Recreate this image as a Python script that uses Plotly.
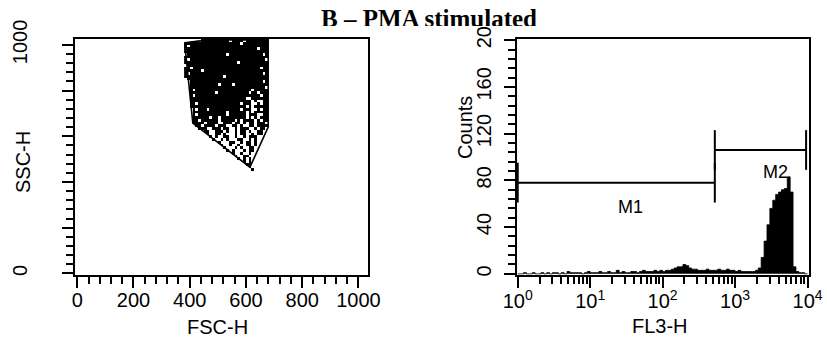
import plotly.graph_objects as go

W, H = 827, 342

# ---------------- Left panel: FSC-H vs SSC-H dot plot ----------------
fsc_tickvals = [0, 200, 400, 600, 800, 1000]
fsc_ticktext = ["0", "200", "400", "600", "800", "1000"]
ssc_tickvals = [0, 200, 400, 600, 800, 1000]
ssc_ticktext = ["0", "", "", "", "", "1000"]

gate_fsc = [382, 464, 679, 679, 614, 411, 382]
gate_ssc = [1009, 1022, 1022, 640, 465, 658, 1009]

# events on a grid ('#' = event present)
event_fsc0, event_dfsc = 385, 10
event_ssc0, event_dssc = 1020, 12
event_rows = [
    "......##########.####.########",
    "####################.#########",
    "#.############################",
    "##########################.###",
    "##############################",
    ".##############.############.#",
    "##############################",
    "#.###########################.",
    "###################.##########",
    ".#############################",
    "##.########################.##",
    "######.#######################",
    "#.##########################.#",
    "##############.###############",
    ".#############################",
    "..##########################.#",
    "..##########.####.############",
    "..###########################.",
    "..#.####################.#####",
    "..#########.###########.##.###",
    "..#.#######################.##",
    "..####################..######",
    "..######################.#..##",
    "..##.###############.###..#.##",
    "..####################.#.#####",
    "...#.###.###########.###..#.##",
    "...############.######.#.#####",
    "...#.##########.######.###..##",
    "...######.##.#########.#.#.###",
    "...##.######.#####.#.####.#.##",
    "...####.####..###.##.#.##.###.",
    "....##.####.###..##.#..##.####",
    ".....###..###.##..#.###..#.##.",
    ".......##..###.#..#.##.#..##..",
    "........#..##.#...#.##..#.##..",
    ".........#.#..##..#..#.###....",
    "..........#..#.#...##..#.#....",
    "............#...##..#.##.#....",
    ".............#..#..#..##.#....",
    "..............#...#.#..##.....",
    "...............#.#...#.##.....",
    ".................#..#..#......",
    "..................#..##.......",
    "...................#.#.#......",
    ".....................#.#......",
    "......................##......",
    ".......................#......",
    "........................#.....",
]

# ---------------- Right panel: FL3-H histogram ----------------
fl3_bin_decades = 0.04  # each channel group spans 0.04 decade, from 10^0 to 10^4
fl3_counts = [
    0, 0, 1, 0, 0, 1, 0, 0, 1, 0,
    1, 0, 1, 1, 0, 1, 0, 2, 1, 1,
    1, 1, 0, 1, 2, 1, 1, 1, 2, 1,
    1, 2, 1, 1, 3, 1, 2, 1, 1, 2,
    2, 1, 2, 3, 2, 2, 2, 3, 2, 3,
    2, 3, 3, 4, 5, 6, 6, 8, 7, 5,
    4, 4, 3, 3, 3, 4, 3, 3, 3, 4,
    3, 3, 4, 3, 3, 2, 3, 2, 2, 2,
    2, 2, 3, 5, 14, 28, 42, 56, 63, 68,
    70, 72, 73, 83, 70, 6, 2, 1, 1, 0,
]
count_tickvals = [0, 40, 80, 120, 160, 200]
count_ticktext = ["0", "40", "80", "120", "160", "20"]
fl3_tickvals = [1, 10, 100, 1000, 10000]
fl3_ticktext = ["10<sup>0</sup>", "10<sup>1</sup>", "10<sup>2</sup>",
                "10<sup>3</sup>", "10<sup>4</sup>"]

marker_names = ["M1", "M2"]
marker_start = [1, 525]
marker_end = [525, 9550]
marker_level = [78, 106]
marker_half_tick = [17, 17]
marker_label_log = [1.55, 3.56]
marker_label_count = [57, 87]

title_text = "<b>B – PMA stimulated</b>"

# ---------------- build figure ----------------
fig = go.Figure()

n_cols = len(event_rows[0])
grid_x = [event_fsc0 + event_dfsc * j for j in range(n_cols)]
grid_y = [event_ssc0 - event_dssc * i for i in range(len(event_rows))]
grid_z = [[1 if ch == "#" else None for ch in row] for row in event_rows]

fig.add_trace(go.Heatmap(x=grid_x, y=grid_y, z=grid_z,
                         colorscale=[[0, "black"], [1, "black"]], showscale=False,
                         zsmooth=False, hoverinfo="skip", xaxis="x", yaxis="y"))
fig.add_trace(go.Scatter(x=gate_fsc, y=gate_ssc, mode="lines",
                         line=dict(color="black", width=1.6),
                         xaxis="x", yaxis="y", hoverinfo="skip"))

hx = [10 ** (fl3_bin_decades * k) for k in range(len(fl3_counts) + 1)]
hy = fl3_counts + [fl3_counts[-1]]
fig.add_trace(go.Scatter(x=hx, y=hy, mode="lines", line_shape="hv",
                         line=dict(color="black", width=0.8),
                         fill="tozeroy", fillcolor="black",
                         xaxis="x2", yaxis="y2", hoverinfo="skip"))

for n, s, e, lv, ht in zip(marker_names, marker_start, marker_end,
                           marker_level, marker_half_tick):
    fig.add_trace(go.Scatter(x=[s, s, None, s, e, None, e, e],
                             y=[lv - ht, lv + ht, None, lv, lv, None, lv - ht, lv + ht],
                             mode="lines", line=dict(color="black", width=2),
                             xaxis="x2", yaxis="y2", hoverinfo="skip"))

# clipped title (text trace on a hidden strip)
fig.add_trace(go.Scatter(x=[429], y=[20.5], mode="text", text=[title_text],
                         textposition="middle center", cliponaxis=True,
                         textfont=dict(family="Liberation Serif", size=25, color="black"),
                         xaxis="x3", yaxis="y3", hoverinfo="skip"))

font = dict(family="Liberation Sans, Arial", size=20, color="black")

def px_x(p):
    return p / W

def px_y(p):
    return 1 - p / H

common = dict(showgrid=False, zeroline=False, showline=True, linecolor="black",
              linewidth=2, mirror=True, ticks="outside", ticklen=11, tickwidth=2,
              tickcolor="black", tickfont=font, automargin=False)

fig.update_layout(
    width=W, height=H, margin=dict(l=0, r=0, t=0, b=0, pad=0),
    paper_bgcolor="white", plot_bgcolor="white", showlegend=False,
    xaxis=dict(domain=[px_x(75), px_x(368)], range=[-8, 1034], anchor="y",
               tickmode="array", tickvals=fsc_tickvals, ticktext=fsc_ticktext,
               ticklabelstandoff=-5,
               minor=dict(tickmode="linear", tick0=0, dtick=40, ticks="outside",
                          ticklen=7, tickwidth=2, tickcolor="black", showgrid=False),
               **common),
    yaxis=dict(domain=[px_y(275), px_y(39)], range=[-7, 1026], anchor="x",
               tickmode="array", tickvals=ssc_tickvals, ticktext=ssc_ticktext,
               tickangle=-90, ticklabelstandoff=27,
               minor=dict(tickmode="linear", tick0=0, dtick=40, ticks="outside",
                          ticklen=7, tickwidth=2, tickcolor="black", showgrid=False),
               **common),
    xaxis2=dict(domain=[px_x(517), px_x(809)], type="log", range=[-0.01, 4.02],
                anchor="y2", tickmode="array", tickvals=fl3_tickvals,
                ticktext=fl3_ticktext, ticklabelstandoff=-4,
                minor=dict(dtick="D1", ticks="outside", ticklen=7, tickwidth=2,
                           tickcolor="black", showgrid=False),
                **common),
    yaxis2=dict(domain=[px_y(275), px_y(39)], range=[-1, 201], anchor="x2",
                tickmode="array", tickvals=count_tickvals, ticktext=count_ticktext,
                tickangle=-90, ticklabelstandoff=5,
                minor=dict(tickmode="linear", tick0=0, dtick=8, ticks="outside",
                           ticklen=7, tickwidth=2, tickcolor="black", showgrid=False),
                **common),
    xaxis3=dict(domain=[0, 1], range=[0, W], visible=False, anchor="y3",
                automargin=False),
    yaxis3=dict(domain=[px_y(26), 1], range=[26, 0], visible=False, anchor="x3",
                automargin=False),
)

ann = []
ann.append(dict(text="FSC-H", x=px_x(218), y=px_y(327), xref="paper", yref="paper",
                showarrow=False, font=font, xanchor="center", yanchor="middle"))
ann.append(dict(text="SSC-H", x=px_x(23), y=px_y(162), xref="paper", yref="paper",
                showarrow=False, font=font, textangle=-90,
                xanchor="center", yanchor="middle"))
ann.append(dict(text="FL3-H", x=px_x(660), y=px_y(326), xref="paper", yref="paper",
                showarrow=False, font=font, xanchor="center", yanchor="middle"))
ann.append(dict(text="Counts", x=px_x(465), y=px_y(128), xref="paper", yref="paper",
                showarrow=False, font=font, textangle=-90,
                xanchor="center", yanchor="middle"))
for n, lx, ly in zip(marker_names, marker_label_log, marker_label_count):
    ann.append(dict(text=n, x=lx, y=ly, xref="x2", yref="y2", showarrow=False,
                    font=dict(family="Liberation Sans, Arial", size=18, color="black"),
                    xanchor="center", yanchor="middle"))
fig.update_layout(annotations=ann)

fig.write_html("out.html")
